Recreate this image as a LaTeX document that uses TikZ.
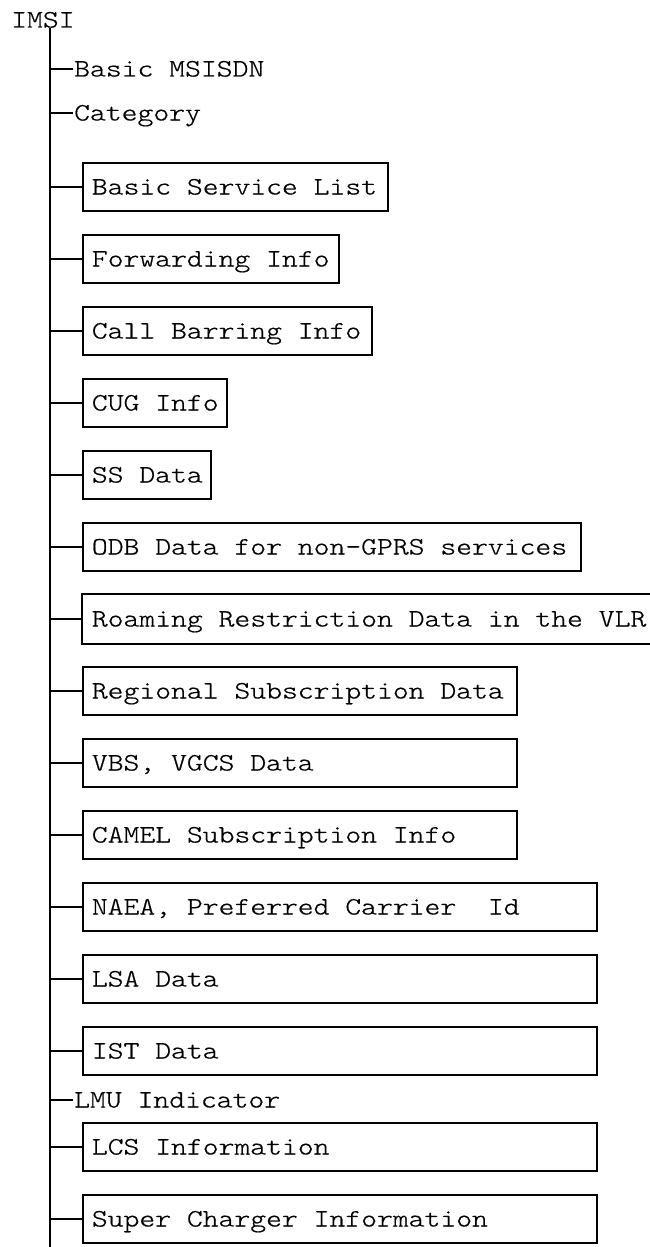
\documentclass[tikz,border=0pt]{standalone}
\usepackage{fontspec}
\newfontfamily\courfont[FakeStretch=1.207,FakeBold=0.6]{lmmonolt10-regular.otf}
\begin{document}
\begin{tikzpicture}[x=1pt,y=-1pt,
  every node/.style={font=\courfont\fontsize{25}{30}\selectfont},
  box/.style={draw, line width=1.8pt, anchor=west, minimum height=48pt,
    inner xsep=9pt, inner ysep=0pt, text height=15pt, text depth=0pt},
  openbox/.style={box, draw=none},
  leaf/.style={anchor=west, inner sep=0pt, text height=15pt, text depth=0pt},
  conn/.style={line width=1.6pt}]
\useasboundingbox (0,0) rectangle (650,1247);
% root
\node[leaf] (imsi) at (11,20) {IMSI};
\coordinate (ttop) at (50,28);
\coordinate (tbot) at (50,1247);
% plain leaves
\node[leaf] (msisdn) at (74,69) {Basic MSISDN};
\node[leaf] (cat) at (74,113) {Category};
\node[leaf] (lmu) at (74,1100) {LMU Indicator};
% boxed leaves
\node[box] (b1) at (82,187) {\makebox[287pt][l]{Basic Service List}};
\node[box] (b2) at (82,259) {\makebox[238pt][l]{Forwarding Info}};
\node[box] (b3) at (82,331) {\makebox[271pt][l]{Call Barring Info}};
\node[box] (b4) at (82,403) {\makebox[126pt][l]{CUG Info}};
\node[box] (b5) at (82,475) {\makebox[110pt][l]{SS Data}};
\node[box] (b6) at (82,547) {\makebox[480pt][l]{ODB Data for non-GPRS services}};
\node[openbox] (b7) at (82,619) {\makebox[560pt][l]{Roaming Restriction Data in the VLR}};
\draw[line width=1.8pt] (b7.north east) -- (b7.north west) -- (b7.south west) -- (b7.south east);
\node[box] (b8) at (82,691) {\makebox[416pt][l]{Regional Subscription Data}};
\node[box] (b9) at (82,763) {\makebox[416pt][l]{VBS, VGCS Data}};
\node[box] (b10) at (82,835) {\makebox[416pt][l]{CAMEL Subscription Info}};
\node[box] (b11) at (82,907) {\makebox[496pt][l]{NAEA, Preferred Carrier\ \ Id}};
\node[box] (b12) at (82,979) {\makebox[496pt][l]{LSA Data}};
\node[box] (b13) at (82,1051) {\makebox[496pt][l]{IST Data}};
\node[box] (b14) at (82,1147) {\makebox[496pt][l]{LCS Information}};
\node[box] (b15) at (82,1219) {\makebox[496pt][l]{Super Charger Information}};
% trunk
\draw[conn] (ttop) -- (tbot);
% branches
\foreach \n in {msisdn,cat,lmu}{
  \draw[conn] (\n.west -| ttop) -- ([xshift=-1pt]\n.west);
}
\foreach \n in {b1,b2,b3,b4,b5,b6,b7,b8,b9,b10,b11,b12,b13,b14,b15}{
  \draw[conn] (\n.west -| ttop) -- (\n.west);
}
\end{tikzpicture}
\end{document}
